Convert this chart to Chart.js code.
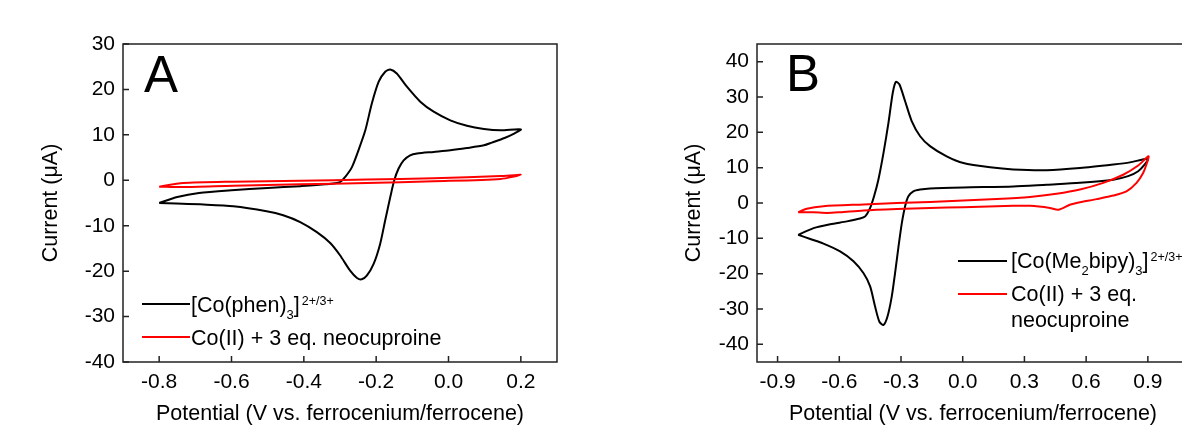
<!DOCTYPE html>
<html>
<head>
<meta charset="utf-8">
<script src="https://cdn.jsdelivr.net/npm/chart.js@4.4.0/dist/chart.umd.min.js"></script>
<style>
  html, body { margin: 0; padding: 0; background: #fff; overflow: hidden; width: 1182px; height: 428px; }
  canvas { position: absolute; top: 0; }
  #chartA { left: 0; }
  #chartB { left: 600px; }
</style>
</head>
<body>
<canvas id="chartA" width="590" height="428"></canvas>
<canvas id="chartB" width="620" height="428"></canvas>
<script>
// Panel A: [Co(phen)3] (forward scan then reverse scan)
const phenPotential = [-0.80, -0.75, -0.69, -0.60, -0.50, -0.41, -0.34, -0.30, -0.286, -0.267, -0.249, -0.23, -0.212, -0.193, -0.175, -0.161, -0.143, -0.115, -0.078, -0.041, 0.005, 0.051, 0.098, 0.144, 0.20,
                       0.18, 0.155, 0.12, 0.098, 0.051, 0.005, -0.041, -0.087, -0.106, -0.124, -0.138, -0.15, -0.161, -0.175, -0.189, -0.207, -0.226, -0.24, -0.253, -0.272, -0.30, -0.327, -0.364, -0.41, -0.457, -0.503, -0.595, -0.687, -0.752, -0.80];
const phenCurrent = [-5.0, -3.7, -2.8, -2.2, -1.7, -1.3, -0.9, -0.4, 0.7, 2.9, 6.6, 11.0, 16.9, 21.7, 23.9, 24.4, 23.5, 20.6, 17.3, 15.1, 13.2, 12.0, 11.3, 11.0, 11.2,
                     10.2, 9.3, 8.3, 7.7, 7.1, 6.6, 6.25, 5.9, 5.5, 4.4, 2.6, 0, -3.7, -8.8, -14.0, -18.4, -21.0, -21.8, -21.5, -19.9, -16.5, -13.8, -11.4, -9.2, -7.7, -6.8, -5.7, -5.3, -5.1, -5.0];

// Panel A: Co(II) + 3 eq. neocuproine
const neoAPotential = [-0.80, -0.734, -0.595, -0.41, -0.226, -0.041, 0.144, 0.20,
                       0.144, -0.041, -0.226, -0.41, -0.595, -0.734, -0.80];
const neoACurrent = [-1.4, -0.6, -0.3, -0.1, 0.15, 0.45, 0.95, 1.2,
                     0.3, -0.2, -0.6, -0.9, -1.2, -1.5, -1.4];

// Panel B: [Co(Me2bipy)3]
const bipyPotential = [-0.80, -0.725, -0.644, -0.563, -0.499, -0.474, -0.45, -0.431, -0.41, -0.385, -0.361, -0.34, -0.325, -0.308, -0.28, -0.248, -0.207, -0.159, -0.078, 0.003, 0.133, 0.246, 0.408, 0.57, 0.732, 0.813, 0.90,
                       0.885, 0.853, 0.804, 0.732, 0.57, 0.408, 0.246, 0.003, -0.159, -0.207, -0.24, -0.264, -0.28, -0.296, -0.312, -0.329, -0.345, -0.366, -0.385, -0.405, -0.426, -0.45, -0.482, -0.531, -0.596, -0.677, -0.741, -0.80];
const bipyCurrent = [-9.0, -7.1, -6.0, -5.2, -4.4, -3.8, -1.4, 1.9, 6.6, 14.2, 22.7, 31.2, 34.3, 33.6, 28.8, 23.2, 18.9, 16.1, 13.2, 11.3, 10.1, 9.5, 9.3, 9.9, 10.9, 11.5, 12.5,
                     10.9, 9.0, 7.6, 6.6, 5.7, 5.2, 4.7, 4.4, 4.1, 3.8, 3.3, 1.9, -0.9, -5.7, -12.3, -19.9, -26.5, -32.2, -34.5, -33.6, -29.3, -23.6, -19.9, -16.5, -13.7, -11.5, -10.2, -9.0];

// Panel B: Co(II) + 3 eq. neocuproine
const neoBPotential = [-0.80, -0.758, -0.677, -0.482, -0.32, -0.159, 0.003, 0.165, 0.327, 0.456, 0.57, 0.683, 0.78, 0.853, 0.903,
                       0.893, 0.877, 0.845, 0.796, 0.732, 0.651, 0.57, 0.521, 0.465, 0.424, 0.327, 0.246, 0.165, 0.003, -0.159, -0.32, -0.482, -0.596, -0.66, -0.725, -0.80];
const neoBCurrent = [-2.6, -1.6, -0.9, -0.4, 0, 0.3, 0.7, 1.1, 1.7, 2.6, 3.8, 5.7, 8.0, 10.6, 13.2,
                     10.9, 8.5, 5.7, 3.3, 2.1, 1.1, 0.2, -0.5, -1.9, -1.4, -0.8, -0.8, -0.9, -1.2, -1.4, -1.7, -2.1, -2.6, -2.8, -2.6, -2.6];

// tick labels
const xTicksA = [-0.8, -0.6, -0.4, -0.2, 0.0, 0.2];
const yTicksA = [-40, -30, -20, -10, 0, 10, 20, 30];
const xTicksB = [-0.9, -0.6, -0.3, 0.0, 0.3, 0.6, 0.9];
const yTicksB = [-40, -30, -20, -10, 0, 10, 20, 30, 40];

// legend texts: [text, 'sub' | 'sup' | '']
const legendA = [
    { color: '#000000', lines: [[['[Co(phen)', ''], ['3', 'sub'], [']', ''], ['2+/3+', 'sup']]] },
    { color: '#ff0000', lines: [[['Co(II) + 3 eq. neocuproine', '']]] }
];
const legendB = [
    { color: '#000000', lines: [[['[Co(Me', ''], ['2', 'sub'], ['bipy)', ''], ['3', 'sub'], [']', ''], ['2+/3+', 'sup']]] },
    { color: '#ff0000', lines: [[['Co(II) + 3 eq.', '']], [['neocuproine', '']]] }
];

const FONT = '"Liberation Sans", Arial, sans-serif';
Chart.defaults.font.family = FONT;
Chart.defaults.color = '#000';

function toPoints(xs, ys) {
    return xs.map((x, i) => ({ x: x, y: ys[i] }));
}

// frame around plot + inward ticks on bottom and left
const framePlugin = {
    id: 'frame',
    afterDraw(chart) {
        const { ctx, chartArea: a, scales: { x, y } } = chart;
        ctx.save();
        ctx.strokeStyle = '#222';
        ctx.lineWidth = 1.5;
        ctx.strokeRect(a.left, a.top, a.right - a.left, a.bottom - a.top);
        ctx.beginPath();
        x.ticks.forEach(t => {
            const px = x.getPixelForValue(t.value);
            ctx.moveTo(px, a.bottom);
            ctx.lineTo(px, a.bottom - 6);
        });
        y.ticks.forEach(t => {
            const py = y.getPixelForValue(t.value);
            ctx.moveTo(a.left, py);
            ctx.lineTo(a.left + 6, py);
        });
        ctx.stroke();
        ctx.restore();
    }
};

// panel letter and legend with sub/superscripts
const annotatePlugin = {
    id: 'annotate',
    afterDraw(chart, args, opts) {
        const ctx = chart.ctx;
        ctx.save();
        ctx.fillStyle = '#000';
        ctx.textBaseline = 'alphabetic';
        ctx.font = '51px ' + FONT;
        ctx.fillText(opts.letter, opts.letterX, opts.letterY);

        opts.items.forEach((item, i) => {
            const ly = opts.rows[i];
            ctx.strokeStyle = item.color;
            ctx.lineWidth = 2;
            ctx.beginPath();
            ctx.moveTo(opts.lineX0, ly);
            ctx.lineTo(opts.lineX1, ly);
            ctx.stroke();
            item.lines.forEach((parts, j) => {
                let tx = opts.textX;
                const base = ly + opts.baseOffset + j * opts.lineGap;
                parts.forEach(([txt, kind]) => {
                    let yy = base;
                    if (kind === 'sub') { ctx.font = '13px ' + FONT; yy = base + 7; }
                    else if (kind === 'sup') { ctx.font = '12.5px ' + FONT; yy = base - 7; tx += 2; }
                    else { ctx.font = '21.5px ' + FONT; }
                    ctx.fillText(txt, tx, yy);
                    tx += ctx.measureText(txt).width;
                });
            });
        });
        ctx.restore();
    }
};

function makeChart(id, cfg) {
    return new Chart(document.getElementById(id), {
        type: 'scatter',
        data: {
            datasets: [
                { data: toPoints(cfg.blackX, cfg.blackY), borderColor: '#000', borderWidth: 2, order: 1 },
                { data: toPoints(cfg.redX, cfg.redY), borderColor: '#ff0000', borderWidth: 2, order: 0 }
            ]
        },
        options: {
            responsive: false,
            animation: false,
            showLine: true,
            elements: { point: { radius: 0, hoverRadius: 0 }, line: { tension: 0.25, fill: false } },
            layout: { padding: { top: 44, right: cfg.padRight, bottom: 0, left: 0 } },
            plugins: {
                legend: { display: false },
                tooltip: { enabled: false },
                annotate: cfg.annotate
            },
            scales: {
                x: {
                    type: 'linear',
                    min: cfg.xMin, max: cfg.xMax,
                    grid: { display: false, drawTicks: false },
                    border: { display: false },
                    afterBuildTicks: s => { s.ticks = cfg.xTicks.map(v => ({ value: v })); },
                    afterFit: s => { s.height = 66; },
                    ticks: { padding: 8, font: { size: 21 }, color: '#000', callback: v => v.toFixed(1) },
                    title: { display: true, text: 'Potential (V vs. ferrocenium/ferrocene)', font: { size: 21.5 }, color: '#000', padding: { top: 0, bottom: 1 } }
                },
                y: {
                    type: 'linear',
                    min: cfg.yMin, max: cfg.yMax,
                    grid: { display: false, drawTicks: false },
                    border: { display: false },
                    afterBuildTicks: s => { s.ticks = cfg.yTicks.map(v => ({ value: v })); },
                    afterFit: s => { s.width = cfg.yWidth; },
                    ticks: { padding: 8, font: { size: 21 }, color: '#000', callback: v => String(v) },
                    title: { display: true, text: 'Current (μA)', font: { size: 21.5 }, color: '#000', padding: { top: cfg.yTitlePad, bottom: 0 } }
                }
            }
        },
        plugins: [framePlugin, annotatePlugin]
    });
}

makeChart('chartA', {
    blackX: phenPotential, blackY: phenCurrent,
    redX: neoAPotential, redY: neoACurrent,
    xMin: -0.9, xMax: 0.3, yMin: -40, yMax: 30,
    xTicks: xTicksA, yTicks: yTicksA,
    yWidth: 123, padRight: 33, yTitlePad: 38,
    annotate: { letter: 'A', letterX: 144, letterY: 92, items: legendA, rows: [304, 337],
                lineX0: 142, lineX1: 190, textX: 191, baseOffset: 8, lineGap: 26 }
});

makeChart('chartB', {
    blackX: bipyPotential, blackY: bipyCurrent,
    redX: neoBPotential, redY: neoBCurrent,
    xMin: -1.0, xMax: 1.1, yMin: -45, yMax: 45,
    xTicks: xTicksB, yTicks: yTicksB,
    yWidth: 157, padRight: 31, yTitlePad: 81,
    annotate: { letter: 'B', letterX: 186, letterY: 91, items: legendB, rows: [261, 294],
                lineX0: 358, lineX1: 407, textX: 411, baseOffset: 7, lineGap: 26 }
});
</script>
</body>
</html>
